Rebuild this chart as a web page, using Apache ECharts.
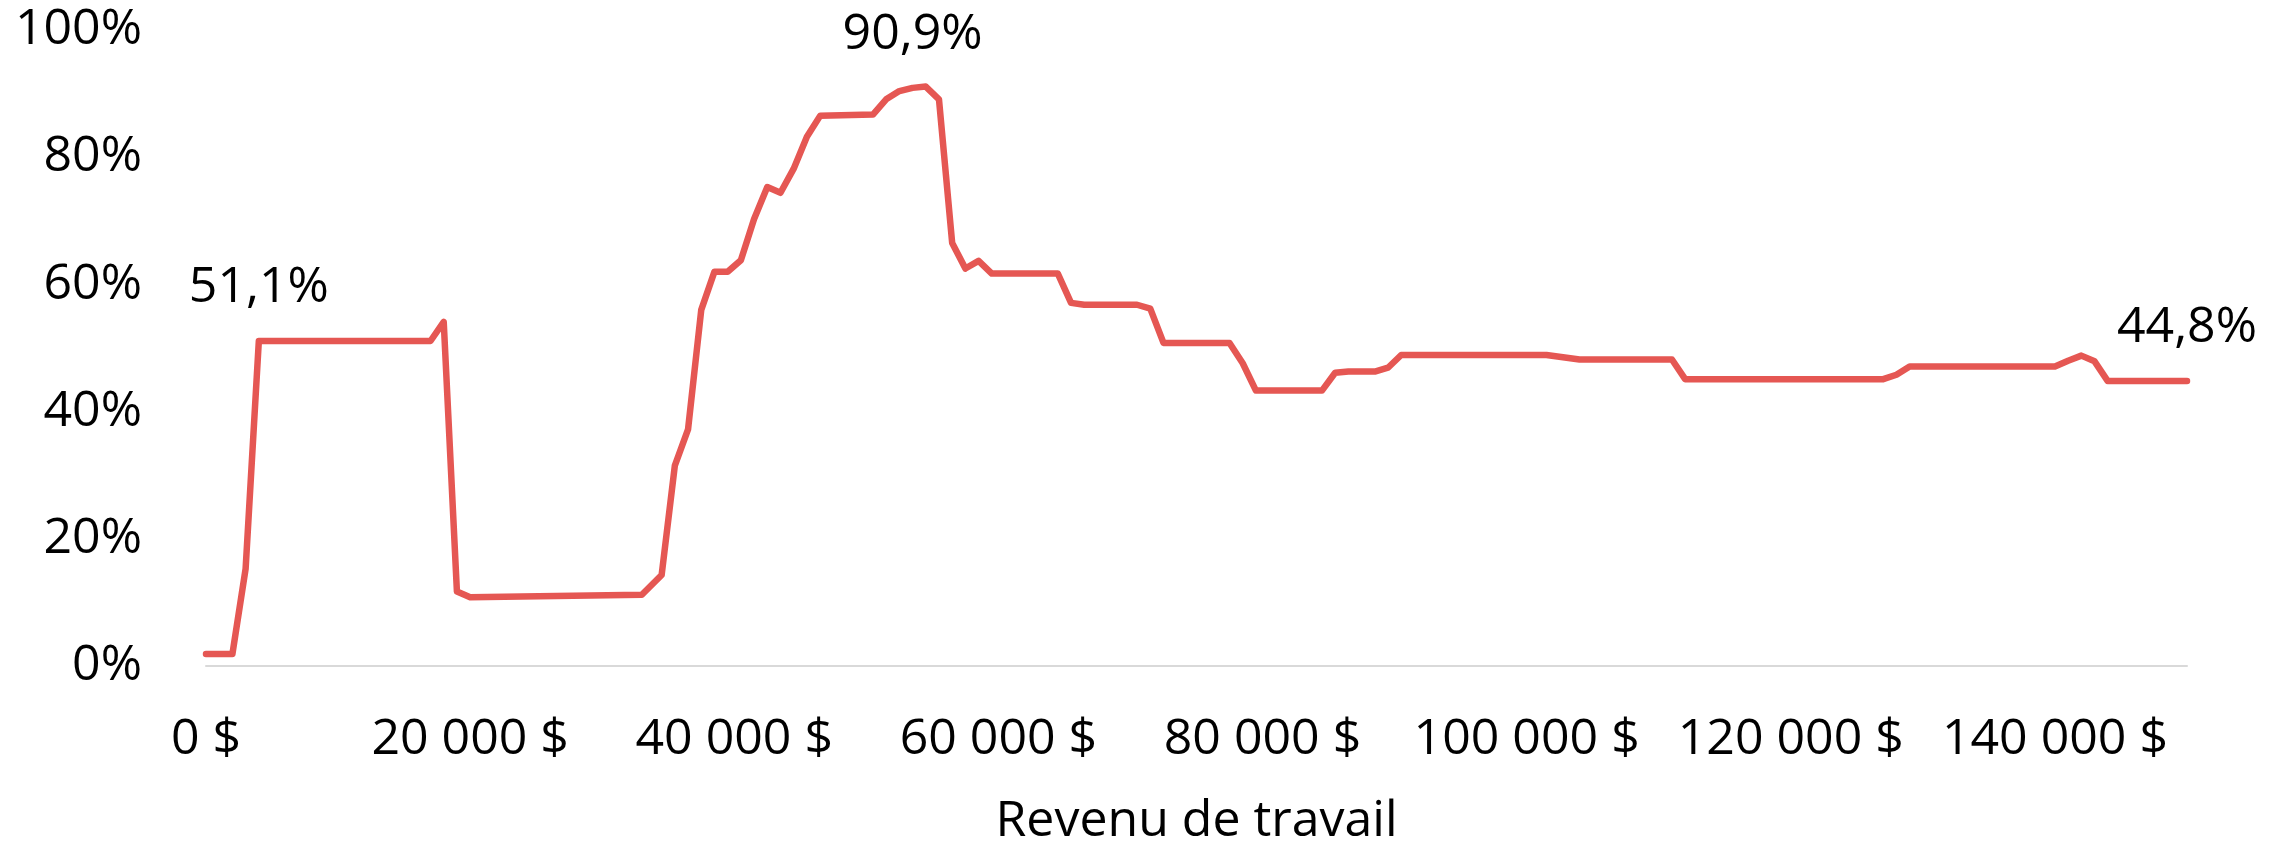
<!DOCTYPE html>
<html>
<head>
<meta charset="utf-8">
<script src="https://cdn.jsdelivr.net/npm/echarts@6/dist/echarts.min.js"></script>
<style>
  html, body { margin: 0; padding: 0; width: 100%; height: 100%; overflow: hidden; background: #ffffff; }
  #chart { width: 100vw; height: 100vh; }
</style>
</head>
<body>
<div id="chart"></div>
<script>
// revenu de travail (en $) aux points de cassure de la courbe
var incomes = [0, 2000, 3000, 4000, 17000, 18000, 19000, 20000, 33000, 34500,
  35500, 36500, 37500, 38500, 39500, 40500, 41500, 42500, 43500, 44500,
  45500, 46500, 50500, 51500, 52500, 53500, 54500, 55500, 56500, 57500,
  58500, 59500, 64500, 65500, 66500, 70500, 71500, 72500, 77500, 78500,
  79500, 84500, 85500, 86500, 88500, 89500, 90500, 101500, 104000, 111000,
  112000, 127000, 128000, 129000, 140000, 141000, 142000, 143000, 144000, 150000];

// taux (en %)
var rates = [1.9, 1.9, 15.3, 51.1, 51.1, 54.1, 11.7, 10.8, 11.2, 14.3,
  31.5, 37.2, 56.0, 62.0, 62.0, 63.8, 70.3, 75.3, 74.4, 78.2,
  83.2, 86.5, 86.7, 89.1, 90.4, 90.9, 91.1, 89.1, 66.5, 62.5,
  63.7, 61.7, 61.7, 57.1, 56.8, 56.8, 56.2, 50.8, 50.8, 47.6,
  43.3, 43.3, 46.1, 46.3, 46.3, 46.9, 48.9, 48.9, 48.2, 48.2,
  45.1, 45.1, 45.8, 47.1, 47.1, 48.0, 48.8, 47.9, 44.8, 44.8];

// points qui portent une étiquette
var labelledIncomes = [4000, 53500, 150000];

var yTicks = [0, 20, 40, 60, 80, 100];

var fontName = '"Open Sans", sans-serif';

function formatDollars(v) {
  return String(v).replace(/\B(?=(\d{3})+(?!\d))/g, ' ') + ' $';
}

function formatRate(v) {
  return v.toFixed(1).replace('.', ',') + '%';
}

var seriesData = [];
for (var i = 0; i < incomes.length; i++) {
  var item = { value: [incomes[i], rates[i]] };
  if (labelledIncomes.indexOf(incomes[i]) >= 0) {
    item.label = { show: true };
  }
  seriesData.push(item);
}

var chart = echarts.init(document.getElementById('chart'), null, { renderer: 'canvas' });

var option = {
  backgroundColor: '#ffffff',
  animation: false,
  grid: {
    left: 206,
    right: 94,
    top: 30,
    bottom: 180,
    containLabel: false
  },
  xAxis: {
    type: 'value',
    min: 0,
    max: 150000,
    interval: 20000,
    name: 'Revenu de travail',
    nameLocation: 'middle',
    nameGap: 131,
    nameTextStyle: { fontFamily: fontName, fontSize: 50, color: '#000' },
    axisLine: { show: true, onZero: false, lineStyle: { color: '#d9d9d9', width: 2 } },
    axisTick: { show: false },
    splitLine: { show: false },
    axisLabel: {
      showMaxLabel: false,
      margin: 49,
      fontFamily: fontName,
      fontSize: 50,
      color: '#000',
      formatter: function (v) { return formatDollars(v); }
    }
  },
  yAxis: {
    type: 'value',
    min: yTicks[0],
    max: yTicks[yTicks.length - 1],
    interval: 20,
    axisLine: { show: false },
    axisTick: { show: false },
    splitLine: { show: false },
    axisLabel: {
      margin: 64,
      fontFamily: fontName,
      fontSize: 50,
      color: '#000',
      formatter: '{value}%'
    }
  },
  series: [{
    type: 'line',
    data: seriesData,
    showSymbol: true,
    symbol: 'circle',
    symbolSize: 0,
    lineStyle: { color: '#e55753', width: 6.5, cap: 'round', join: 'round' },
    itemStyle: { color: '#e55753' },
    label: {
      show: false,
      position: 'top',
      distance: 28,
      fontFamily: fontName,
      fontSize: 50,
      color: '#000',
      formatter: function (p) { return formatRate(p.value[1]); }
    }
  }]
};

chart.setOption(option);
</script>
</body>
</html>
